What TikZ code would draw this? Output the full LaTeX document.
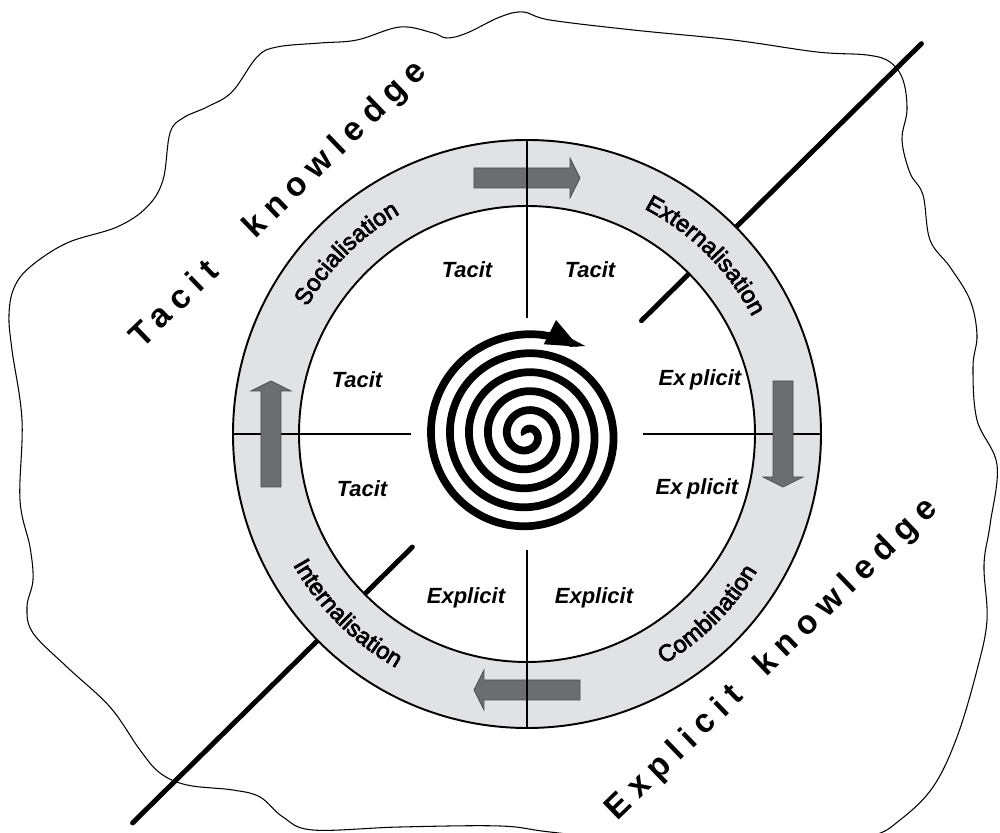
\documentclass[tikz,border=0pt]{standalone}
\usepackage{fontspec}
\setmainfont{Liberation Sans}
\newfontfamily\modefamily[FakeBold=3]{Liberation Sans}
\usetikzlibrary{arrows.meta,decorations.text}

\definecolor{ringgrey}{RGB}{225,226,228}
\definecolor{arrowgrey}{RGB}{108,109,113}
\newcommand{\modefont}{\modefamily\fontsize{13.5}{16}\selectfont}

\begin{document}
\begin{tikzpicture}[
    x=0.2mm, y=0.2mm,
    outline/.style={line width=0.6pt},
    ring/.style={draw, line width=1.1pt, fill=ringgrey, even odd rule},
    divider/.style={line width=1.1pt},
    axisline/.style={line width=2.8pt, line cap=round},
    turn/.style={-{Triangle[length=19pt, width=14pt]}, line width=4.4pt},
    blockarrow/.style={fill=arrowgrey, draw=black!70, line width=0.4pt},
    quadrant/.style={font=\fontsize{12.5}{15}\selectfont\bfseries\itshape},
    kind/.style={font=\fontsize{19}{22}\selectfont\bfseries\addfontfeature{LetterSpace=25}, rotate=44}
]
\useasboundingbox (-527,-399) rectangle (473,434);

\begin{scope}[shift={(-527,434)}, yscale=-1]
\draw[outline] plot[smooth cycle, tension=0.6] coordinates {
    (22,420) (12,350) (9,315) (14,288) (30,267) (67,243) (117,227) (147,207)
    (163,180) (170,133) (183,118) (207,107) (232,92) (257,57) (277,47) (320,43)
    (357,40) (400,27) (433,33) (447,38) (467,33) (500,17) (523,12) (550,20)
    (633,30) (733,40) (817,52) (867,55) (890,62) (903,80) (907,110) (902,140)
    (910,173) (923,195) (930,240) (950,267) (970,300) (977,335) (973,367) (977,420)
    (997,465) (990,525) (984,565) (987,620) (977,670) (957,737) (933,787) (900,820)
    (870,836) (800,842) (650,842) (550,832) (500,826) (400,827) (313,830) (283,817)
    (260,797) (233,790) (187,785) (160,773) (140,750) (110,707) (67,667) (33,633)
    (27,607) (33,580) (30,547) (20,500)};
\end{scope}

\coordinate (c) at (0,0);
\draw[axisline] (44.7:555) -- (44.7:161);
\draw[axisline] (224.6:554) -- (224.6:161);

\draw[ring] (c) circle (294) (c) circle (228);
\draw[divider] (-294,0) -- (-116,0);
\draw[divider] (116,0) -- (294,0);
\foreach \r in {0,-90,-180,-270}
  \draw[blockarrow, rotate=\r] (-53,246) -- (43,246) -- (43,236) -- (53,256) -- (43,276) -- (43,266) -- (-53,266) -- cycle;
\draw[divider] (0,294) -- (0,116);
\draw[divider] (0,-116) -- (0,-294);

\path[decorate, decoration={text along path, text align=center, text={|\modefont|Socialisation}}]
    (165:254) arc[start angle=165, end angle=105, radius=254];
\path[decorate, decoration={text along path, text align=center, text={|\modefont|Externalisation}}]
    (75:254) arc[start angle=75, end angle=15, radius=254];
\path[decorate, decoration={text along path, text align=center, text={|\modefont|Combination}}]
    (-75:268) arc[start angle=-75, end angle=-15, radius=268];
\path[decorate, decoration={text along path, text align=center, text={|\modefont|Internalisation}}]
    (195:268) arc[start angle=195, end angle=255, radius=268];

\node[quadrant] (sTacitA) at (-60,164) {Tacit};
\node[quadrant] (eTacit) at (63,164) {Tacit};
\node[quadrant] (sTacitB) at (-170,54) {Tacit};
\node[quadrant] (eExplicit) at (173,54) {Ex\hspace{0.2em}plicit};
\node[quadrant] (iTacit) at (-165,-55) {Tacit};
\node[quadrant] (cExplicitA) at (170,-55) {Ex\hspace{0.2em}plicit};
\node[quadrant] (iExplicit) at (-61,-164) {Explicit};
\node[quadrant] (cExplicitB) at (67,-164) {Explicit};

\draw[turn, shift={(0,-1)}] plot[domain=40:1940, samples=240, smooth, variable=\t] ({199-\t}:{0.052778*\t});

\node[kind] (tacitk) at (-248,229) {Tacit\hspace{18pt} knowledge};
\node[kind] (explicitk) at (245,-226) {Explicit\hspace{7pt} knowledge};
\end{tikzpicture}
\end{document}
